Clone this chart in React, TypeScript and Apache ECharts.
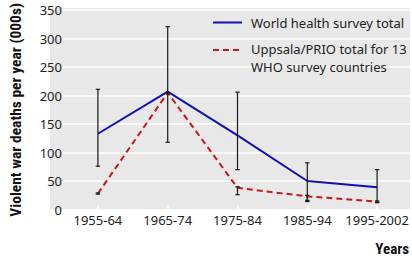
import React, { useEffect, useRef } from "react";
import * as echarts from "echarts";

const categories = ["1955-64", "1965-74", "1975-84", "1985-94", "1995-2002"];
const whoTotal = [133, 207, 130, 50, 39];
const whoLow = [76, 118, 70, 16, 13];
const whoHigh = [211, 321, 206, 82, 70];
const uppsala = [28, 205, 38, 23, 14];
const uppsalaLow = [27, 205, 26, 14, 12];
const uppsalaHigh = [29, 205, 40, 25, 15];
const yTicks = { min: 0, max: 350, interval: 50 };
const legendLines = ["World health survey total", "Uppsala/PRIO total for 13", "WHO survey countries"];

const FONT = "'Noto Sans', 'Open Sans', sans-serif";
const BOLD_FONT = "'Liberation Sans Narrow', 'Roboto Condensed', Roboto, sans-serif";
const BLUE = "#1010b8";
const RED = "#c41a1a";

function errorBarItem(params: any, api: any) {
  const x = api.value(0);
  const lo = api.coord([x, api.value(1)]);
  const hi = api.coord([x, api.value(2)]);
  const cap = 2.2;
  const style = { stroke: "#1a1a1a", lineWidth: 1.2 };
  return {
    type: "group",
    children: [
      { type: "line", shape: { x1: lo[0], y1: lo[1], x2: hi[0], y2: hi[1] }, style },
      { type: "line", shape: { x1: hi[0] - cap, y1: hi[1], x2: hi[0] + cap, y2: hi[1] }, style },
      { type: "line", shape: { x1: lo[0] - cap, y1: lo[1], x2: lo[0] + cap, y2: lo[1] }, style },
    ],
  };
}

export default function App() {
  const ref = useRef<HTMLDivElement>(null);
  useEffect(() => {
    document.body.style.margin = "0";
    const chart = echarts.init(ref.current!, undefined, { renderer: "svg" });
    const whoBars = categories.map((_, i) => [i, whoLow[i], whoHigh[i]]);
    const uppBars = categories.map((_, i) => [i, uppsalaLow[i], uppsalaHigh[i]]);
    chart.setOption({
      animation: false,
      backgroundColor: "#ffffff",
      grid: { left: 46.7, right: -1.3, top: 8, bottom: 48.5, containLabel: false },
      xAxis: {
        type: "category",
        data: categories,
        boundaryGap: true,
        axisLine: { show: false },
        axisTick: { show: true, alignWithLabel: true, inside: true, length: 4, lineStyle: { color: "#ffffff", width: 1.5 } },
        axisLabel: { color: "#222", fontFamily: FONT, fontSize: 13, margin: 4, interval: 0 },
        splitLine: { show: false },
      },
      yAxis: {
        type: "value",
        min: yTicks.min,
        max: yTicks.max,
        interval: yTicks.interval,
        axisLine: { show: false },
        axisTick: { show: false },
        axisLabel: { color: "#222", fontFamily: FONT, fontSize: 13, margin: 1 },
        splitLine: { show: true, lineStyle: { color: "#ffffff", width: 1.5 } },
        name: "Violent war deaths per year (000s)",
        nameLocation: "middle",
        nameRotate: 90,
        nameGap: 39,
        nameTextStyle: { color: "#111", fontFamily: BOLD_FONT, fontWeight: "bold", fontSize: 15.5 },
      },
      graphic: [
        { type: "rect", z: -10, silent: true, shape: { x: 50, y: 8, width: 360, height: 201.5 }, style: { fill: "#e8e8e8" } },
        { type: "line", z: 10, shape: { x1: 213, y1: 22.5, x2: 242, y2: 22.5 }, style: { stroke: BLUE, lineWidth: 2 } },
        { type: "text", z: 10, x: 251, y: 22.5, style: { text: legendLines[0], fill: "#222", font: `13px ${FONT}`, verticalAlign: "middle" } },
        { type: "line", z: 10, shape: { x1: 213, y1: 50, x2: 242, y2: 50 }, style: { stroke: RED, lineWidth: 2, lineDash: [6, 4] } },
        { type: "text", z: 10, x: 251, y: 49, style: { text: legendLines[1], fill: "#222", font: `13px ${FONT}`, verticalAlign: "middle" } },
        { type: "text", z: 10, x: 251, y: 67.2, style: { text: legendLines[2], fill: "#222", font: `13px ${FONT}`, verticalAlign: "middle" } },
        { type: "text", z: 10, right: 3, top: 241, style: { text: "Years", fill: "#111", font: `bold 15px ${BOLD_FONT}` } },
      ],
      series: [
        { name: "who", type: "line", data: whoTotal, symbol: "none", lineStyle: { color: BLUE, width: 2 }, z: 3 },
        { name: "uppsala", type: "line", data: uppsala, symbol: "none", lineStyle: { color: RED, width: 2, type: [6, 4] }, z: 3 },
        { name: "whoErr", type: "custom", data: whoBars, renderItem: errorBarItem, z: 4 },
        { name: "uppErr", type: "custom", data: uppBars, renderItem: errorBarItem, z: 4 },
      ],
    });
    return () => chart.dispose();
  }, []);
  return <div ref={ref} style={{ width: 412, height: 258 }} />;
}
